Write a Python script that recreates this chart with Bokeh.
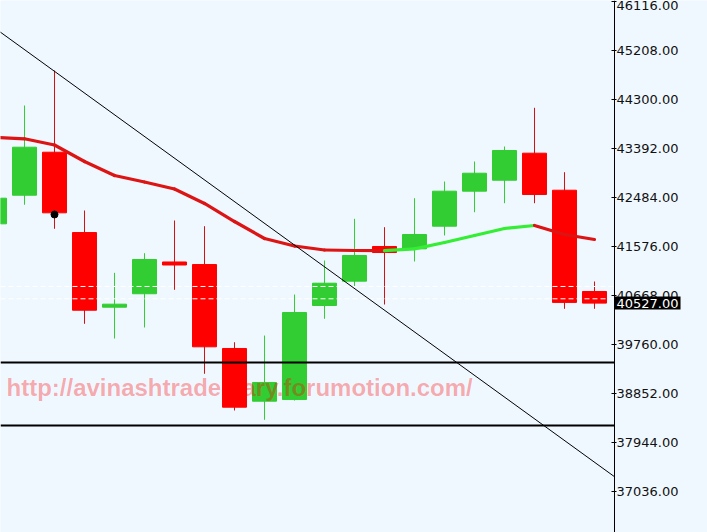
from bokeh.plotting import figure
from bokeh.models import (Range1d, FixedTicker, NumeralTickFormatter, Label,
                          ColumnDataSource, LinearAxis)
from bokeh.core.properties import value
from bokeh.embed import file_html
from bokeh.resources import INLINE

# Daily OHLC candles
opens  = [41996, 42526, 43323, 41835, 40451, 40700, 41289, 41242, 39686, 38709, 38740,
          40482, 40933, 41576, 41533, 41952, 42601, 42804, 43305, 42619, 40742]
highs  = [42706, 44189, 44837, 42243, 41088, 41452, 42058, 41952, 39802, 39926, 40686,
          41316, 42089, 41934, 42471, 42780, 43151, 43429, 44146, 42953, 40927]
lows   = [41835, 42349, 41904, 40143, 39871, 40075, 40773, 39217, 38537, 38364, 38722,
          40236, 40835, 40501, 41298, 41780, 42211, 42378, 42378, 40421, 40421]
closes = [42471, 43416, 42200, 40395, 40507, 41335, 41233, 39717, 38598, 39056, 40353,
          40896, 41409, 41465, 41798, 42601, 42934, 43355, 42540, 40540, 40527]

# Moving average
ma_values = [43596, 43572, 43457, 43151, 42892, 42771, 42641, 42373, 42039, 41724, 41585,
             41511, 41502, 41500, 41533, 41650, 41780, 41909, 41965, 41798, 41706]

# Marker under candle 2
marker_idx = [2]
marker_price = [42169]

# Support levels and reference levels
support_levels = [39426, 38259]
ref_levels = [40835, 40607]

# Trend line anchors (index, price)
trend_points = [(2, 44822), (18, 38383)]

y_ticks = [37036, 37944, 38852, 39760, 40668, 41576, 42484, 43392, 44300, 45208, 46116]
watermark = "http://avinashtradediary.forumotion.com/"

BG = "#F0F8FF"
UP = "#32CD32"
DOWN = "#FF0000"

n = len(closes)
idx = list(range(n))

# Price scale sits at the right end of the bar area, the tag area lies beyond it
X_START, X_AXIS, X_END = 0.2, 20.667, 23.767

p = figure(width=707, height=532, output_backend="svg", toolbar_location=None,
           x_axis_location=None, y_axis_location=None,
           x_range=Range1d(X_START, X_END), y_range=Range1d(36276, 46134.5),
           min_border=0, background_fill_color=BG, border_fill_color=BG,
           outline_line_color=None)
p.grid.visible = False

up = [c >= o for o, c in zip(opens, closes)]
src = ColumnDataSource(dict(
    x=idx, o=opens, h=highs, l=lows, c=closes,
    body_color=[UP if u else DOWN for u in up],
    wick_color=[UP if u else "#D01010" for u in up],
))

p.segment(x0="x", y0="l", x1="x", y1="h", line_color="wick_color", line_width=1, source=src)
p.vbar(x="x", width=0.8, top="o", bottom="c", fill_color="body_color",
       line_color="body_color", line_width=1, source=src)

# Reference levels (white dashed), up to the price scale
p.segment(x0=[X_START] * len(ref_levels), y0=ref_levels,
          x1=[X_AXIS] * len(ref_levels), y1=ref_levels,
          line_color="white", line_width=1, line_dash="5 3")

# Moving average, green while rising and red while falling
ma_x0, ma_y0, ma_x1, ma_y1, ma_col = [], [], [], [], []
for i in range(n - 1):
    ma_x0.append(idx[i]); ma_y0.append(ma_values[i])
    ma_x1.append(idx[i + 1]); ma_y1.append(ma_values[i + 1])
    ma_col.append("#33EE33" if ma_values[i + 1] > ma_values[i] else "#DD1414")
p.segment(x0=ma_x0, y0=ma_y0, x1=ma_x1, y1=ma_y1, line_color=ma_col,
          line_width=3.2, line_cap="round")

p.scatter(x=marker_idx, y=marker_price, size=7, color="black")

# Support lines
p.segment(x0=[X_START] * len(support_levels), y0=support_levels,
          x1=[X_AXIS] * len(support_levels), y1=support_levels,
          line_color="black", line_width=2)

# Trend line through its two anchors, drawn across the bar area
(tx0, ty0), (tx1, ty1) = trend_points
grad = (ty1 - ty0) / (tx1 - tx0)
tl_x = [X_START - 1, X_AXIS]
tl_y = [ty0 + grad * (x - tx0) for x in tl_x]
p.line(x=tl_x, y=tl_y, line_color="black", line_width=1)

# Watermark
p.text(x=[0.4], y=[38963], text=[watermark], text_font=value("Liberation Sans"),
       text_font_style="bold", text_font_size="24px", text_color="red",
       text_alpha=0.32, text_baseline="alphabetic")

# Price scale
ax = LinearAxis(fixed_location=X_AXIS)
ax.ticker = FixedTicker(ticks=y_ticks)
ax.formatter = NumeralTickFormatter(format="0.00")
ax.axis_line_color = "black"
ax.major_tick_line_color = "black"
ax.major_tick_in = 3
ax.major_tick_out = 2
ax.minor_tick_line_color = None
ax.major_label_standoff = 0
ax.major_label_text_font = "DejaVu Sans"
ax.major_label_text_font_size = "13px"
ax.major_label_text_color = "#111111"
p.add_layout(ax, "right")

# Last price tag
p.add_layout(Label(x=X_AXIS, y=closes[-1], x_offset=0, text=f"{closes[-1]:.2f}",
                   text_color="white", text_font="DejaVu Sans", text_font_size="13px",
                   text_baseline="middle", background_fill_color="black",
                   padding=2))

open("out.html", "w").write(file_html(p, INLINE))
